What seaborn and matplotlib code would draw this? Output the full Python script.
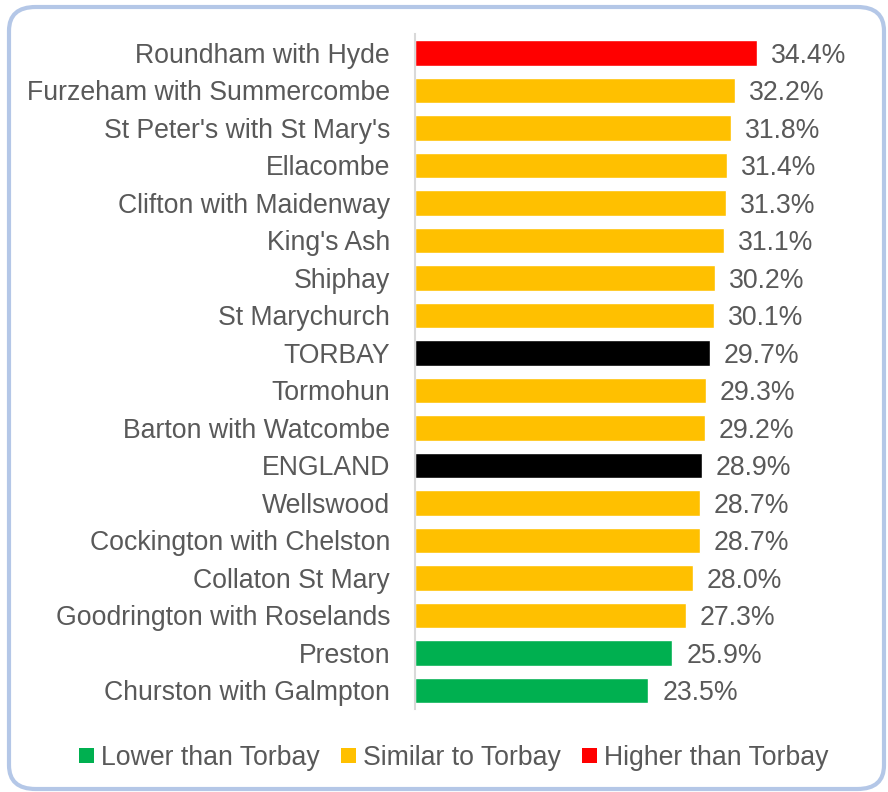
import matplotlib
matplotlib.use("Agg")
import matplotlib.pyplot as plt
from matplotlib.patches import Patch, FancyBboxPatch
import seaborn as sns
import pandas as pd

wards = ["Roundham with Hyde", "Furzeham with Summercombe", "St Peter's with St Mary's",
         "Ellacombe", "Clifton with Maidenway", "King's Ash", "Shiphay", "St Marychurch",
         "TORBAY", "Tormohun", "Barton with Watcombe", "ENGLAND", "Wellswood",
         "Cockington with Chelston", "Collaton St Mary", "Goodrington with Roselands",
         "Preston", "Churston with Galmpton"]
values = [34.4, 32.2, 31.8, 31.4, 31.3, 31.1, 30.2, 30.1, 29.7, 29.3, 29.2, 28.9,
          28.7, 28.7, 28.0, 27.3, 25.9, 23.5]
groups = ["Higher than Torbay"] + ["Similar to Torbay"] * 7 + ["Comparator"] + \
         ["Similar to Torbay"] * 2 + ["Comparator"] + ["Similar to Torbay"] * 4 + \
         ["Lower than Torbay"] * 2
legend_labels = ["Lower than Torbay", "Similar to Torbay", "Higher than Torbay"]
palette = {"Lower than Torbay": "#00B050", "Similar to Torbay": "#FFC000",
           "Higher than Torbay": "#FF0000", "Comparator": "#000000"}

df = pd.DataFrame({"ward": wards, "value": values, "group": groups})

sns.set_style("white")
plt.rcParams['font.family'] = ['Liberation Sans', 'DejaVu Sans']
TEXT = "#595959"
FS = 19.2

fig = plt.figure(figsize=(8.88, 7.92), dpi=100)
ax = fig.add_axes([415 / 888, 1 - 709.25 / 792, 447 / 888, 675.15 / 792])

sns.barplot(data=df, x="value", y="ward", hue="group", palette=palette,
            dodge=False, legend=False, width=0.68, ax=ax, saturation=1)

ax.set_xlim(0, 45)
ax.set_xlabel("")
ax.set_ylabel("")
ax.set_xticks([])
ax.tick_params(axis="y", length=0, pad=18, labelsize=FS, labelcolor=TEXT)
for lbl in ax.get_yticklabels():
    lbl.set_verticalalignment("center_baseline")
for s in ["top", "right", "bottom"]:
    ax.spines[s].set_visible(False)
ax.spines["left"].set_color("#D9D9D9")
ax.spines["left"].set_linewidth(1.5)

for i, v in enumerate(values):
    ax.annotate(f"{v:.1f}%", xy=(v, i), xytext=(10, 0), textcoords="offset points",
                va="center_baseline", ha="left", fontsize=FS, color=TEXT)

handles = [Patch(facecolor=palette[g], edgecolor="none") for g in legend_labels]
fig.legend(handles, legend_labels, loc="center", bbox_to_anchor=(454 / 888, 1 - 758 / 792),
           ncol=3, frameon=False, fontsize=FS, labelcolor=TEXT,
           handlelength=0.55, handleheight=0.47, handletextpad=0.27,
           columnspacing=0.8, borderpad=0)

border = FancyBboxPatch((9 / 888, 1 - 789 / 792), 875 / 888, 782 / 792,
                        boxstyle="round,pad=0,rounding_size=0.03",
                        transform=fig.transFigure, facecolor="none",
                        edgecolor="#B4C7E7", linewidth=3, zorder=10)
fig.patches.append(border)

fig.savefig("out.png", dpi=100, facecolor="white")
